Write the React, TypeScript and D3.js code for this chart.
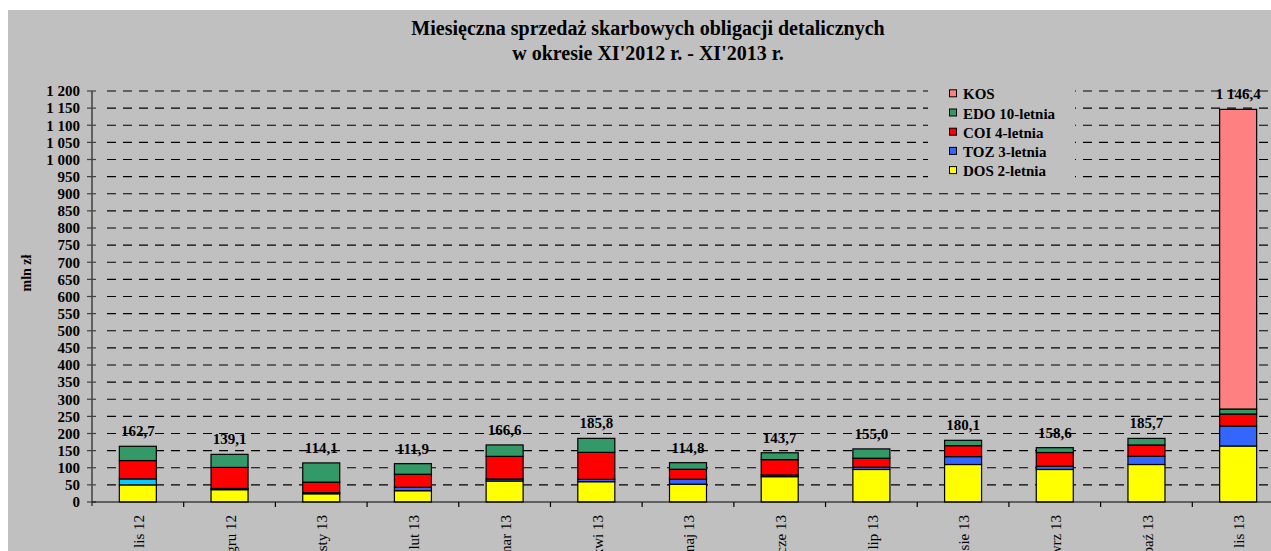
import React from "react"
import * as d3 from "d3"

// miesiące XI'2012 - XI'2013
const months = ["lis 12", "gru 12", "sty 13", "lut 13", "mar 13", "kwi 13", "maj 13", "cze 13", "lip 13", "sie 13", "wrz 13", "paź 13", "lis 13"]

// sprzedaż w mln zł
const dos = [50, 36, 24, 33, 61.3, 59.3, 52, 74, 95, 109.5, 95, 109.5, 163.5]
const toz = [17.5, 3.5, 3.5, 10, 6, 6.8, 14.5, 5, 6.5, 23, 9.5, 24, 58.4]
const coi = [53.5, 61.5, 30.4, 38, 66, 78.8, 29, 44.7, 26.3, 32, 40, 33, 35]
const edo = [41.7, 38.1, 56.2, 30.9, 33.3, 40.9, 19.3, 20, 27.2, 15.6, 14.1, 19.2, 14.6]
const kos = [0, 0, 0, 0, 0, 0, 0, 0, 0, 0, 0, 0, 874.9]

const yTicks = d3.range(0, 1201, 50)

const seriesNames = ["DOS 2-letnia", "TOZ 3-letnia", "COI 4-letnia", "EDO 10-letnia", "KOS"]
const seriesValues = [dos, toz, coi, edo, kos]
const seriesColors = ["#FFFF00", "#3366FF", "#FF0000", "#339966", "#FF8080"]

const pl = d3.formatLocale({decimal: ",", thousands: " ", grouping: [3], currency: ["", " zł"]})
const fmtTick = pl.format(",d")
const fmtVal = pl.format(",.1f")

const font = "'Liberation Serif', 'Times New Roman', serif"

const App = () => {
    const margin = {left: 92, right: 1284, top: 91, bottom: 502}

    let x = d3.scaleBand()
        .domain(months)
        .range([margin.left, margin.right])
    let y = d3.scaleLinear()
        .domain([0, 1200])
        .range([margin.bottom, margin.top])

    const barW = 37

    const rows = months.map((m, i) => {
        let r: any = {month: m}
        seriesNames.forEach((s, k) => { r[s] = seriesValues[k][i] })
        return r
    })
    const stacked = d3.stack().keys(seriesNames)(rows)
    const totals = months.map((m, i) => d3.sum(seriesValues, v => v[i]))

    return (
        <svg width={1271} height={551} style={{position: "absolute", left: 0, top: 0, display: "block"}} fontFamily={font}>
            <rect x={8} y={10} width={1300} height={560} fill="#C0C0C0" />

            <text x={648} y={35} textAnchor="middle" fontSize={20} fontWeight="bold">Miesięczna sprzedaż skarbowych obligacji detalicznych</text>
            <text x={648} y={59.5} textAnchor="middle" fontSize={20} fontWeight="bold">w okresie XI'2012 r. - XI'2013 r.</text>

            {/* siatka */}
            {yTicks.filter(t => t > 0).map(t =>
                <line key={"g" + t} x1={margin.left + 15} x2={1290} y1={y(t)} y2={y(t)}
                    stroke="#000" strokeWidth={1.1} strokeDasharray="9,7" />
            )}

            {/* legenda (tło przykrywa siatkę) */}
            <rect x={928} y={84} width={147} height={97} fill="#C0C0C0" />
            {seriesNames.slice().reverse().map((s, i) => {
                const k = seriesNames.indexOf(s)
                const by = 99.3 + i * 19.2
                return (
                    <g key={"l" + s}>
                        <rect x={949.5} y={by - 9.5} width={7} height={7} fill={seriesColors[k]} stroke="#000" strokeWidth={1} />
                        <text x={963} y={by} fontSize={15} fontWeight="bold">{s}</text>
                    </g>
                )
            })}

            {/* słupki */}
            {stacked.map((layer, k) =>
                <g key={"s" + k}>
                    {layer.map((d, i) => {
                        const h = y(d[0]) - y(d[1])
                        if (h <= 0) return null
                        const fill = (k === 1 && i === 0) ? "#00CCFF" : seriesColors[k]
                        return <rect key={i} x={x(months[i])! + x.bandwidth() / 2 - barW / 2} y={y(d[1])}
                            width={barW} height={h} fill={fill} stroke="#000" strokeWidth={1.2} />
                    })}
                </g>
            )}

            {/* sumy */}
            {totals.map((t, i) =>
                <text key={"t" + i} x={x(months[i])! + x.bandwidth() / 2} y={y(t) - 10} textAnchor="middle"
                    fontSize={15} fontWeight="bold">{fmtVal(t)}</text>
            )}

            {/* oś Y */}
            <line x1={margin.left} x2={margin.left} y1={margin.top} y2={margin.bottom + 4} stroke="#404040" strokeWidth={1.5} />
            {yTicks.map(t =>
                <g key={"y" + t}>
                    <line x1={margin.left - 5} x2={margin.left + 4} y1={y(t)} y2={y(t)} stroke="#404040" strokeWidth={1.2} />
                    <text x={80} y={y(t)} dy="0.35em" textAnchor="end" fontSize={15} fontWeight="bold">{fmtTick(t)}</text>
                </g>
            )}
            <text transform="translate(31,273) rotate(-90)" textAnchor="middle" fontSize={14} fontWeight="bold">mln zł</text>

            {/* oś X */}
            <line x1={margin.left} x2={1290} y1={margin.bottom} y2={margin.bottom} stroke="#000" strokeWidth={1.2} />
            {months.slice(1).map(m =>
                <line key={"xt" + m} x1={x(m)!} x2={x(m)!} y1={margin.bottom} y2={margin.bottom + 5} stroke="#000" strokeWidth={1.2} />
            )}
            {months.map((m, i) =>
                <text key={"xl" + i} transform={`translate(${x(m)! + x.bandwidth() / 2 + 1},515) rotate(-90)`}
                    textAnchor="end" dy="0.35em" fontSize={15}>{m}</text>
            )}
        </svg>
    )
}

export default App
